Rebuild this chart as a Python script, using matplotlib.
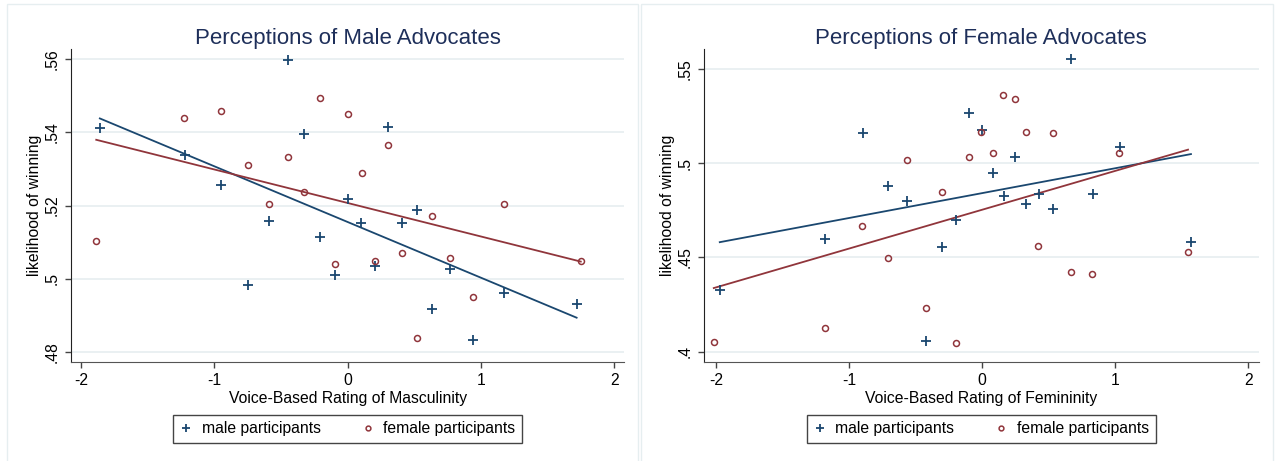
import matplotlib
matplotlib.use("Agg")
import matplotlib.pyplot as plt
import numpy as np
from matplotlib.patches import Rectangle

plt.rcParams["font.family"] = ["Liberation Sans", "DejaVu Sans"]

# ─── DATA ─────────────────────────────────────────────────────────────────────

# left panel: male advocates, x = voice-based masculinity rating
male_adv_x_m = [-1.858, -1.221, -0.949, -0.447, -0.324, -0.591, -0.747, -0.208, 0.003, -0.098,
                0.104, 0.306, 0.205, 0.407, 0.517, 0.634, 0.768, 0.943, 1.175, 1.717]
male_adv_y_m = [0.5412, 0.5339, 0.5255, 0.5598, 0.5396, 0.5157, 0.4984, 0.5115, 0.5218, 0.5011,
                0.5151, 0.5414, 0.5034, 0.5151, 0.5187, 0.4916, 0.5026, 0.4833, 0.4961, 0.4932]
male_adv_x_f = [-1.885, -1.224, -0.949, -0.747, -0.588, -0.447, -0.324, -0.208, 0.003, -0.098,
                0.107, 0.303, 0.205, 0.410, 0.517, 0.634, 0.768, 0.940, 1.172, 1.748]
male_adv_y_f = [0.5103, 0.5440, 0.5458, 0.5311, 0.5203, 0.5334, 0.5237, 0.5493, 0.5451, 0.5039,
                0.5288, 0.5365, 0.5049, 0.5069, 0.4839, 0.5171, 0.5057, 0.4950, 0.5203, 0.5047]

# right panel: female advocates, x = voice-based femininity rating
fem_adv_x_m = [-1.973, -1.184, -0.895, -0.706, -0.563, -0.301, -0.420, -0.195, -0.097, -0.006,
               0.079, 0.161, 0.247, 0.329, 0.429, 0.533, 0.667, 0.831, 1.038, 1.568]
fem_adv_y_m = [0.4328, 0.4600, 0.5159, 0.4876, 0.4800, 0.4554, 0.4059, 0.4696, 0.5264, 0.5177,
               0.4945, 0.4823, 0.5034, 0.4781, 0.4836, 0.4759, 0.5554, 0.4836, 0.5083, 0.4584]
fem_adv_x_f = [-2.018, -1.184, -0.901, -0.563, -0.709, -0.301, -0.423, -0.198, -0.097, -0.009,
               0.082, 0.158, 0.247, 0.329, 0.420, 0.530, 0.670, 0.822, 1.029, 1.546]
fem_adv_y_f = [0.4050, 0.4125, 0.4669, 0.5014, 0.4496, 0.4846, 0.4234, 0.4045, 0.5030, 0.5163,
               0.5051, 0.5359, 0.5338, 0.5164, 0.4561, 0.5161, 0.4420, 0.4413, 0.5051, 0.4528]

# linear fits (intercept, slope) as drawn in the reference
fit_male_adv = {"m": (0.5155, -0.01524), "f": (0.5207, -0.009166)}
fit_fem_adv = {"m": (0.4841, 0.01319), "f": (0.4753, 0.02059)}

x_ticks = [-2, -1, 0, 1, 2]
left_yticks = [0.48, 0.50, 0.52, 0.54, 0.56]
left_ylabels = [".48", ".5", ".52", ".54", ".56"]
right_yticks = [0.40, 0.45, 0.50, 0.55]
right_ylabels = [".4", ".45", ".5", ".55"]

C_MALE = "#1A476F"
C_FEM = "#90353B"
C_TITLE = "#1E2F5A"
C_GRID = "#E6EEF0"
FS = 11.3


def panel(ax, xm, ym, xf, yf, fits, title, xlabel, yticks, ylabels, xlim, ylim):
    ax.set_xlim(*xlim)
    ax.set_ylim(*ylim)
    for y in yticks:
        ax.axhline(y, color=C_GRID, lw=1.2, zorder=0)

    ax.plot(xm, ym, "+", color=C_MALE, ms=6.5, mew=1.3, ls="none",
            label="male participants", zorder=3)
    ax.plot(xf, yf, "o", color=C_FEM, ms=4.3, mew=1.1, mfc="none", ls="none",
            label="female participants", zorder=3)

    for key, xs, col in (("m", xm, C_MALE), ("f", xf, C_FEM)):
        b0, b1 = fits[key]
        xx = np.array([min(xs), max(xs)])
        ax.plot(xx, b0 + b1 * xx, color=col, lw=1.3, zorder=2)

    ax.set_xticks(x_ticks)
    ax.set_xticklabels([str(t) for t in x_ticks], fontsize=FS)
    ax.set_yticks(yticks)
    ax.set_yticklabels(ylabels, fontsize=FS, rotation=90, va="center")
    ax.tick_params(length=4.5, width=1, color="#444444", pad=3.5)

    ax.spines["top"].set_visible(False)
    ax.spines["right"].set_visible(False)
    ax.spines["left"].set_color("#222222")
    ax.spines["bottom"].set_color("#555555")

    ax.set_title(title, fontsize=16, color=C_TITLE, pad=3.5)
    ax.set_xlabel(xlabel, fontsize=FS, labelpad=2)
    ax.set_ylabel("likelihood of winning", fontsize=FS, labelpad=2)

    leg = ax.legend(loc="center", bbox_to_anchor=(0.5, -0.215), ncol=2,
                    fontsize=FS, fancybox=False, edgecolor="#444444",
                    handlelength=0.8, handletextpad=0.6, columnspacing=2.6,
                    borderpad=0.4, framealpha=1, markerscale=0.8)
    leg.get_frame().set_linewidth(1.0)


fig = plt.figure(figsize=(12.75, 4.61), dpi=100)

# light panel borders
fig.patches.append(Rectangle((7 / 1275, -0.1), 631 / 1275, 1.0 - 4 / 461 + 0.1,
                             transform=fig.transFigure, fill=False,
                             edgecolor=C_GRID, lw=1.0))
fig.patches.append(Rectangle((641 / 1275, -0.1), 632 / 1275, 1.0 - 4 / 461 + 0.1,
                             transform=fig.transFigure, fill=False,
                             edgecolor=C_GRID, lw=1.0))

ax1 = fig.add_axes([0.0555, 0.2154, 0.4343, 0.6783])
ax2 = fig.add_axes([0.5522, 0.2154, 0.4349, 0.6783])

panel(ax1, male_adv_x_m, male_adv_y_m, male_adv_x_f, male_adv_y_f, fit_male_adv,
      "Perceptions of Male Advocates", "Voice-Based Rating of Masculinity",
      left_yticks, left_ylabels, (-2.076, 2.076), (0.4773, 0.5628))
panel(ax2, fem_adv_x_m, fem_adv_y_m, fem_adv_x_f, fem_adv_y_f, fit_fem_adv,
      "Perceptions of Female Advocates", "Voice-Based Rating of Femininity",
      right_yticks, right_ylabels, (-2.091, 2.076), (0.3947, 0.5605))

fig.savefig("out.png", dpi=100)
